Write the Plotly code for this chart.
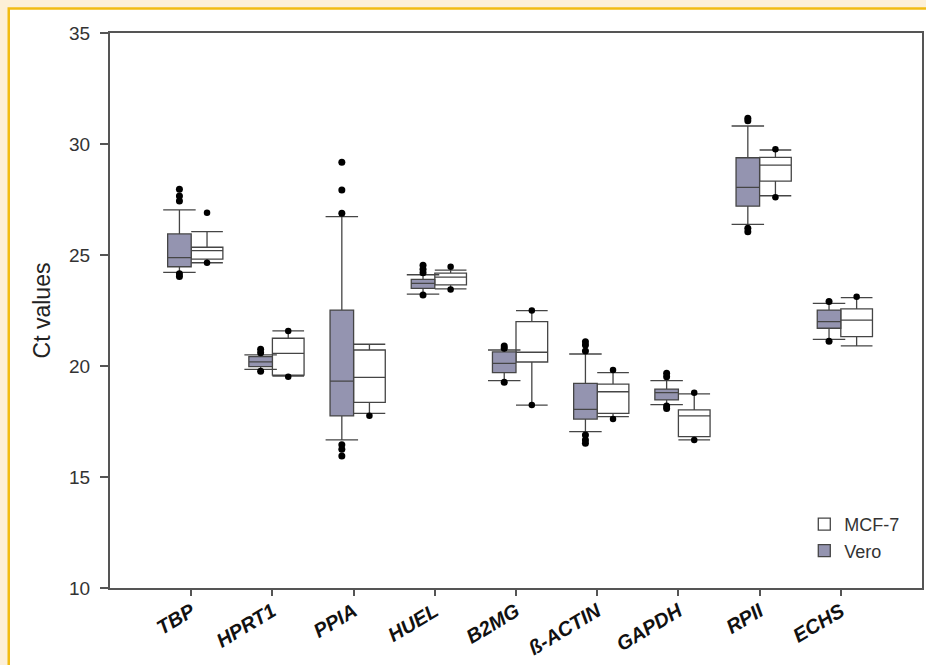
import plotly.graph_objects as go

categories = ["TBP", "HPRT1", "PPIA", "HUEL", "B2MG", "ß-ACTIN", "GAPDH", "RPII", "ECHS"]

# Vero statistics (lower whisker, Q1, median, Q3, upper whisker)
vero_low = [24.22, 19.85, 16.67, 23.24, 19.34, 17.04, 18.26, 26.38, 21.20]
vero_q1 = [24.47, 19.97, 17.75, 23.50, 19.70, 17.61, 18.47, 27.20, 21.70]
vero_med = [24.88, 20.19, 19.32, 23.72, 20.12, 18.05, 18.80, 28.05, 22.00]
vero_q3 = [25.95, 20.42, 22.52, 23.90, 20.64, 19.22, 18.96, 29.38, 22.52]
vero_high = [27.03, 20.50, 26.73, 24.11, 20.72, 20.54, 19.34, 30.81, 22.82]
vero_out = [
    [27.96, 27.66, 27.43, 24.15, 24.03],
    [20.75, 20.60, 19.76],
    [29.18, 27.93, 26.88, 16.45, 16.25, 15.95],
    [24.54, 24.36, 24.20, 23.20],
    [20.90, 20.80, 19.27],
    [21.09, 20.95, 20.68, 16.89, 16.67, 16.52],
    [19.67, 19.52, 18.20, 18.09],
    [31.16, 31.05, 26.20, 26.05],
    [22.90, 21.11],
]

# MCF-7 statistics
mcf_low = [24.65, 19.55, 17.87, 23.47, 18.24, 17.72, 16.67, 27.67, 20.91]
mcf_q1 = [24.81, 19.59, 18.36, 23.65, 20.18, 17.87, 16.82, 28.33, 21.32]
mcf_med = [25.20, 20.57, 19.49, 24.00, 20.62, 18.84, 17.75, 29.05, 22.07]
mcf_q3 = [25.35, 21.25, 20.72, 24.18, 22.00, 19.18, 18.02, 29.40, 22.57]
mcf_high = [26.05, 21.58, 20.98, 24.32, 22.49, 19.70, 18.74, 29.73, 23.08]
mcf_out = [
    [26.90, 24.65],
    [21.58, 19.52],
    [17.76],
    [24.47, 23.45],
    [22.50, 18.24],
    [19.82, 17.61],
    [18.80, 16.67],
    [29.76, 27.60],
    [23.12],
]

y_ticks = [10, 15, 20, 25, 30, 35]

VERO_FILL = "#9494B0"
EDGE = "#454545"
VERO_OFF, VERO_W = -0.145, 0.29
MCF_OFF, MCF_W = 0.195, 0.39
CAP_HALF = 0.2

pos = list(range(len(categories)))
vx = [p + VERO_OFF for p in pos]
mx = [p + MCF_OFF for p in pos]

fig = go.Figure()

fig.add_trace(go.Box(
    name="MCF-7", x=mx, q1=mcf_q1, median=mcf_med, q3=mcf_q3,
    lowerfence=mcf_low, upperfence=mcf_high, width=MCF_W,
    fillcolor="white", line=dict(color=EDGE, width=1.3),
    whiskerwidth=1, boxpoints=False, hoverinfo="skip",
))
fig.add_trace(go.Box(
    name="Vero", x=vx, q1=vero_q1, median=vero_med, q3=vero_q3,
    lowerfence=vero_low, upperfence=vero_high, width=VERO_W,
    fillcolor=VERO_FILL, line=dict(color=EDGE, width=1.3),
    whiskerwidth=0, boxpoints=False, hoverinfo="skip",
))

# Vero whisker caps (wider than the box)
cx, cy = [], []
for c, lo, hi in zip(vx, vero_low, vero_high):
    cx += [c - CAP_HALF, c + CAP_HALF, None, c - CAP_HALF, c + CAP_HALF, None]
    cy += [lo, lo, None, hi, hi, None]
fig.add_trace(go.Scatter(x=cx, y=cy, mode="lines", line=dict(color=EDGE, width=1.3),
                         showlegend=False, hoverinfo="skip"))

# Outliers
ox, oy = [], []
for c, vals in zip(vx, vero_out):
    ox += [c] * len(vals)
    oy += vals
fig.add_trace(go.Scatter(x=ox, y=oy, mode="markers", marker=dict(color="black", size=7),
                         showlegend=False, hoverinfo="skip"))
ox, oy = [], []
for c, vals in zip(mx, mcf_out):
    ox += [c] * len(vals)
    oy += vals
fig.add_trace(go.Scatter(x=ox, y=oy, mode="markers", marker=dict(color="black", size=6.5),
                         showlegend=False, hoverinfo="skip"))

W, H = 926, 665
L, R, T, B = 110, 2, 33, 77
pw, ph = W - L - R, H - T - B

def px_x(p):
    return (p - L) / pw

def px_y(p):
    return (H - B - p) / ph

fig.add_shape(type="rect", xref="paper", yref="paper",
              x0=px_x(8.5), x1=px_x(960), y0=px_y(700), y1=px_y(8.5),
              fillcolor="white", line=dict(color="#F2BC14", width=2.5), layer="below")

font_family = "Liberation Sans, Arial, sans-serif"

fig.update_layout(
    width=W, height=H,
    margin=dict(l=L, r=R, t=T, b=B),
    paper_bgcolor="#FDF0D8",
    plot_bgcolor="white",
    boxmode="overlay",
    font=dict(family=font_family, color="#222"),
    legend=dict(x=px_x(806), y=px_y(506), xanchor="left", yanchor="top",
                bgcolor="rgba(0,0,0,0)", font=dict(size=18, color="#333"),
                traceorder="normal"),
    xaxis=dict(
        range=[-1, 9], tickmode="array", tickvals=pos, ticktext=categories,
        tickangle=-31, ticks="outside", ticklen=6, tickwidth=1.5, tickcolor="#555",
        tickfont=dict(size=20, color="#111", weight="bold", style="italic"),
        ticklabelstandoff=-4,
        showgrid=False, zeroline=False, showline=True, linecolor="#555", linewidth=2,
        mirror=True,
    ),
    yaxis=dict(
        range=[10, 35], tickmode="array", tickvals=y_ticks,
        ticks="outside", ticklen=8, tickwidth=1.5, tickcolor="#555",
        tickfont=dict(size=19, color="#333"), ticklabelstandoff=6,
        title=dict(text="Ct values", font=dict(size=23, color="#222"), standoff=12),
        showgrid=False, zeroline=False, showline=True, linecolor="#555", linewidth=2,
        mirror=True,
    ),
)

fig.write_html("out.html")
